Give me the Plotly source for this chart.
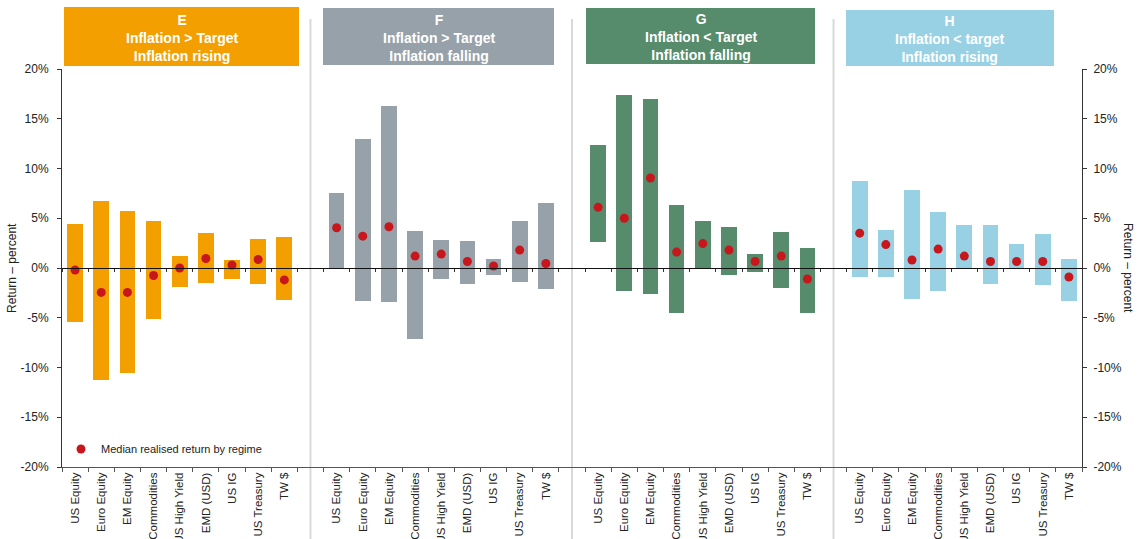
import plotly.graph_objects as go

# ---------------- data ----------------
assets = ["US Equity", "Euro Equity", "EM Equity", "Commodities", "US High Yield",
          "EMD (USD)", "US IG", "US Treasury", "TW $"]

regimes = ["E", "F", "G", "H"]
regime_titles = ["E<br>Inflation > Target<br>Inflation rising",
                 "F<br>Inflation > Target<br>Inflation falling",
                 "G<br>Inflation < Target<br>Inflation falling",
                 "H<br>Inflation < target<br>Inflation rising"]

high_E = [4.4, 6.7, 5.7, 4.7, 1.2, 3.5, 0.8, 2.9, 3.1]
low_E = [-5.4, -11.3, -10.6, -5.1, -1.9, -1.5, -1.1, -1.6, -3.2]
med_E = [-0.2, -2.45, -2.45, -0.75, 0.0, 0.95, 0.3, 0.85, -1.2]

high_F = [7.5, 13.0, 16.3, 3.7, 2.8, 2.7, 0.9, 4.7, 6.5]
low_F = [0.0, -3.3, -3.4, -7.1, -1.1, -1.6, -0.7, -1.4, -2.1]
med_F = [4.05, 3.2, 4.15, 1.2, 1.4, 0.65, 0.2, 1.8, 0.45]

high_G = [12.35, 17.4, 17.0, 6.3, 4.7, 4.1, 1.4, 3.6, 2.0]
low_G = [2.6, -2.3, -2.6, -4.5, 0.0, -0.7, -0.4, -2.0, -4.5]
med_G = [6.1, 5.0, 9.05, 1.6, 2.45, 1.8, 0.65, 1.2, -1.1]

high_H = [8.7, 3.8, 7.8, 5.6, 4.3, 4.3, 2.4, 3.4, 0.9]
low_H = [-0.9, -0.9, -3.1, -2.3, 0.0, -1.6, 0.0, -1.7, -3.3]
med_H = [3.5, 2.35, 0.8, 1.9, 1.2, 0.65, 0.65, 0.65, -0.9]

highs = [high_E, high_F, high_G, high_H]
lows = [low_E, low_F, low_G, low_H]
meds = [med_E, med_F, med_G, med_H]

y_ticks = [-20, -15, -10, -5, 0, 5, 10, 15, 20]
y_ticktext = ["-20%", "-15%", "-10%", "-5%", "0%", "5%", "10%", "15%", "20%"]

# ---------------- styles ----------------
panel_colors = ["#F39F00", "#97A1A9", "#568B6B", "#98D1E4"]
dot_color = "#C8161D"
FONT = "Arial, Liberation Sans, sans-serif"

W, H = 1138, 539
ML, MR, MT, MB = 62, 56, 69, 72
PW = W - ML - MR
PH = H - MT - MB


def px_to_paper_x(px):
    return (px - ML) / PW


def px_to_paper_y(py):
    return (H - MB - py) / PH


fig = go.Figure()

all_x, all_labels = [], []
med_x, med_y = [], []
for p in range(4):
    xs = [p * 10 + i for i in range(len(assets))]
    all_x += xs
    all_labels += assets
    fig.add_trace(go.Bar(
        x=xs,
        y=[h - l for h, l in zip(highs[p], lows[p])],
        base=lows[p],
        width=0.6,
        marker=dict(color=panel_colors[p], line=dict(width=0)),
        showlegend=False,
        hoverinfo="skip",
    ))
    med_x += xs
    med_y += meds[p]

fig.add_trace(go.Scatter(
    x=med_x, y=med_y, mode="markers",
    marker=dict(color=dot_color, size=9),
    name="Median realised return by regime",
    showlegend=True,
))

# helper traces so the extra axes render
fig.add_trace(go.Scatter(x=[], y=[], xaxis="x2", yaxis="y", showlegend=False))
fig.add_trace(go.Scatter(x=[], y=[], xaxis="x", yaxis="y2", showlegend=False))

n_cat = 39
boundaries = [i - 0.5 for i in range(n_cat + 1)]

shapes = []
# panel separators
for g in [9, 19, 29]:
    shapes.append(dict(type="line", xref="x", yref="paper", x0=g, x1=g,
                       y0=px_to_paper_y(539), y1=px_to_paper_y(19),
                       line=dict(color="#D9D9D9", width=2), layer="below"))

# header boxes
box_px = [(64, 299, 7, 66), (323, 554, 8, 65), (586, 815, 8, 64), (846, 1054, 10, 66)]
annotations = []
for p, (x0, x1, y0, y1) in enumerate(box_px):
    shapes.append(dict(type="rect", xref="paper", yref="paper",
                       x0=px_to_paper_x(x0), x1=px_to_paper_x(x1),
                       y0=px_to_paper_y(y1), y1=px_to_paper_y(y0),
                       fillcolor=panel_colors[p], line=dict(width=0)))
    annotations.append(dict(xref="paper", yref="paper",
                            x=px_to_paper_x((x0 + x1) / 2), y=px_to_paper_y((y0 + y1) / 2 + 1),
                            text="<b>" + regime_titles[p] + "</b>", showarrow=False,
                            font=dict(family=FONT, size=14, color="white"),
                            xanchor="center", yanchor="middle"))

annotations.append(dict(xref="paper", yref="paper", x=px_to_paper_x(12), y=0.5,
                        text="Return – percent", textangle=-90, showarrow=False,
                        font=dict(family=FONT, size=12, color="#222"),
                        xanchor="center", yanchor="middle"))
annotations.append(dict(xref="paper", yref="paper", x=px_to_paper_x(1128), y=0.5,
                        text="Return – percent", textangle=90, showarrow=False,
                        font=dict(family=FONT, size=12, color="#222"),
                        xanchor="center", yanchor="middle"))

axis_common_y = dict(range=[-20, 20], tickmode="array", tickvals=y_ticks, ticktext=y_ticktext,
                     showgrid=False, zeroline=False, showline=True, linecolor="#333",
                     linewidth=1, ticks="outside", ticklen=4, tickcolor="#333",
                     automargin=False,
                     tickfont=dict(family=FONT, size=12, color="#222"))

fig.update_layout(
    width=W, height=H,
    margin=dict(l=ML, r=MR, t=MT, b=MB, autoexpand=False),
    plot_bgcolor="white", paper_bgcolor="white",
    bargap=0,
    font=dict(family=FONT),
    xaxis=dict(range=[-0.5, 38.5], tickmode="array", tickvals=all_x, ticktext=all_labels,
               tickangle=-90, ticks="", showgrid=False, zeroline=False, automargin=False,
               showline=True, linecolor="#555", linewidth=1,
               tickfont=dict(family=FONT, size=11.5, color="#222"),
               minor=dict(tickmode="array", tickvals=boundaries, ticks="outside",
                          ticklen=4, tickcolor="#555", showgrid=False)),
    xaxis2=dict(range=[-0.5, 38.5], overlaying="x", anchor="free", position=0.5,
                showticklabels=False, showgrid=False, zeroline=False, showline=True,
                linecolor="#111", linewidth=1, ticks="", automargin=False,
                minor=dict(tickmode="array", tickvals=boundaries, ticks="outside",
                           ticklen=3, tickcolor="#333", showgrid=False)),
    yaxis=dict(**axis_common_y, side="left", ticklabelstandoff=6),
    yaxis2=dict(**axis_common_y, side="right", overlaying="y", ticklabelstandoff=4),
    shapes=shapes,
    annotations=annotations,
    legend=dict(x=px_to_paper_x(61), y=px_to_paper_y(449), xanchor="left", yanchor="middle",
                bgcolor="rgba(0,0,0,0)", font=dict(family=FONT, size=11, color="#222"),
                itemwidth=30),
)

fig.write_html("out.html", config={"displayModeBar": False},
               post_script="document.body.style.margin='0px';document.body.style.overflow='hidden';")
